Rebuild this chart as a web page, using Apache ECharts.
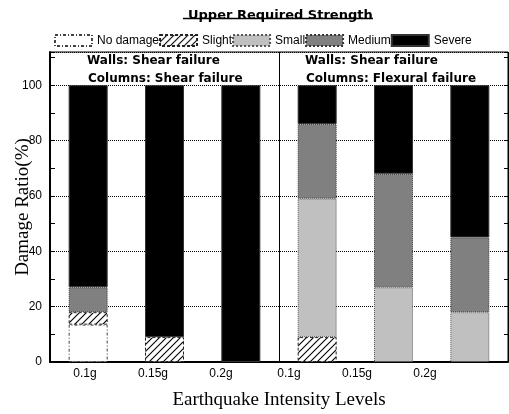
<!DOCTYPE html>
<html><head><meta charset="utf-8">
<script src="https://cdn.jsdelivr.net/npm/echarts@6/dist/echarts.min.js"></script>
<style>html,body{margin:0;padding:0;background:#fff}#c{width:509px;height:414px}</style>
</head><body><div id="c"></div>
<script>
const categories = ['0.1g', '0.15g', '0.2g', '0.1g', '0.15g', '0.2g'];
const damageLevels = ['No damage', 'Slight', 'Small', 'Medium', 'Severe'];
const noDamage = [13.5, null, null, null, null, null];
const slight   = [4.5, 9, null, 9, null, null];
const small    = [null, null, null, 50, 27, 18];
const medium   = [9, null, null, 27, 41, 27];
const severe   = [73, 91, 100, 14, 32, 55];
const titleText = 'Upper Required Strength';
const xName = 'Earthquake Intensity Levels';
const yName = 'Damage Ratio(%)';
const leftNotes = ['Walls: Shear failure', 'Columns: Shear failure'];
const rightNotes = ['Walls: Shear failure', 'Columns: Flexural failure'];

function hatch() {
  const s = 7, c = document.createElement('canvas');
  c.width = s; c.height = s;
  const g = c.getContext('2d');
  g.fillStyle = '#fff'; g.fillRect(0, 0, s, s);
  g.strokeStyle = '#000'; g.lineWidth = 1.1; g.beginPath();
  g.moveTo(0, s); g.lineTo(s, 0);
  g.moveTo(-1, 1); g.lineTo(1, -1);
  g.moveTo(s - 1, s + 1); g.lineTo(s + 1, s - 1);
  g.stroke();
  return c;
}

const seriesData = [noDamage, slight, small, medium, severe];
const fills = ['#ffffff', { image: hatch(), repeat: 'repeat' }, '#c0c0c0', '#808080', '#000000'];
const borderTypes = [[3, 2, 1, 2], [3, 2], 'dotted', 'dotted', 'solid'];
const borderColors = ['#444', '#222', '#555', '#333', '#333'];

const chart = echarts.init(document.getElementById('c'), null, { renderer: 'canvas' });
const sans = 'Liberation Sans';
const boldFont = 'bold 12px "DejaVu Sans"';

chart.setOption({
  animation: false,
  backgroundColor: '#fff',
  title: {
    text: titleText, left: 183, top: 4,
    textStyle: { fontFamily: 'DejaVu Sans', fontWeight: 'bold', fontSize: 13, color: '#000' }
  },
  legend: {
    data: damageLevels, left: 49, top: 29, itemWidth: 37, itemHeight: 11, itemGap: 0,
    icon: 'rect',
    itemStyle: { borderType: 'inherit' },
    textStyle: { fontFamily: sans, fontSize: 12, color: '#000' }
  },
  grid: [
    { left: 50, right: 1, top: 52, bottom: 52, show: true, borderColor: '#000', borderWidth: 1, backgroundColor: 'transparent', containLabel: false, outerBoundsMode: 'none' },
    { left: 51, width: 408, top: 52, bottom: 52, show: false, containLabel: false, outerBoundsMode: 'none' }
  ],
  xAxis: [
    {
      type: 'category', gridIndex: 0, data: categories, boundaryGap: true,
      axisLine: { show: true, lineStyle: { color: '#000', width: 2 } },
      axisTick: { show: false }, axisLabel: { show: false },
      splitLine: { show: false },
      name: xName, nameLocation: 'middle', nameGap: 29, nameMoveOverlap: false,
      nameTextStyle: { fontFamily: 'Liberation Serif', fontSize: 19, color: '#000' }
    },
    {
      type: 'category', gridIndex: 1, data: categories, boundaryGap: true,
      axisLine: { show: false }, axisTick: { show: false },
      axisLabel: { show: true, margin: 6, fontFamily: sans, fontSize: 12, color: '#000', interval: 0 },
      splitLine: { show: false }
    },
    {
      // panel divider: splits the 6 category bands into two halves of 3
      type: 'value', gridIndex: 0, min: 0, max: categories.length, interval: categories.length / 2,
      axisLine: { show: false }, axisTick: { show: false }, axisLabel: { show: false },
      splitLine: { show: true, lineStyle: { color: '#000', width: 1, type: 'solid' } }
    }
  ],
  yAxis: [
    {
      type: 'value', gridIndex: 0, min: 0, max: 112, interval: 20,
      axisLine: { show: true, lineStyle: { color: '#000', width: 2 } },
      axisTick: { show: false },
      axisLabel: { show: true, showMaxLabel: false, margin: 8, fontFamily: sans, fontSize: 12, color: '#000' },
      splitLine: { show: true, lineStyle: { color: '#000', width: 1, type: 'dotted' } },
      name: yName, nameLocation: 'middle', nameGap: 17, nameMoveOverlap: false,
      nameTextStyle: { fontFamily: 'Liberation Serif', fontSize: 19, color: '#000' }
    },
    {
      type: 'value', gridIndex: 0, min: 0, max: 112, interval: 10, position: 'left',
      axisLine: { show: false }, axisLabel: { show: false }, splitLine: { show: false },
      axisTick: { show: true, inside: true, length: 5, lineStyle: { color: '#000', width: 1 } }
    },
    {
      type: 'value', gridIndex: 0, min: 0, max: 112, interval: 10, position: 'right',
      axisLine: { show: false }, axisLabel: { show: false }, splitLine: { show: false },
      axisTick: { show: true, inside: true, length: 4, lineStyle: { color: '#000', width: 1 } }
    },
    {
      type: 'value', gridIndex: 1, min: 0, max: 112, show: false
    }
  ],
  graphic: [
    { type: 'line', shape: { x1: 183, y1: 18.5, x2: 373, y2: 18.5 }, style: { stroke: '#000', lineWidth: 1.5 } },
    { type: 'text', x: 87, y: 61, style: { text: leftNotes[0], font: boldFont, fill: '#000', verticalAlign: 'middle' } },
    { type: 'text', x: 88, y: 79, style: { text: leftNotes[1], font: boldFont, fill: '#000', verticalAlign: 'middle' } },
    { type: 'text', x: 305, y: 61, style: { text: rightNotes[0], font: boldFont, fill: '#000', verticalAlign: 'middle' } },
    { type: 'text', x: 306, y: 79, style: { text: rightNotes[1], font: boldFont, fill: '#000', verticalAlign: 'middle' } }
  ],
  series: damageLevels.map((n, i) => ({
    name: n, type: 'bar', stack: 'damage', xAxisIndex: 0, yAxisIndex: 0,
    barWidth: 39, data: seriesData[i],
    itemStyle: { color: fills[i], borderColor: borderColors[i], borderWidth: 1, borderType: borderTypes[i] },
    emphasis: { disabled: true }
  }))
});
</script></body></html>
